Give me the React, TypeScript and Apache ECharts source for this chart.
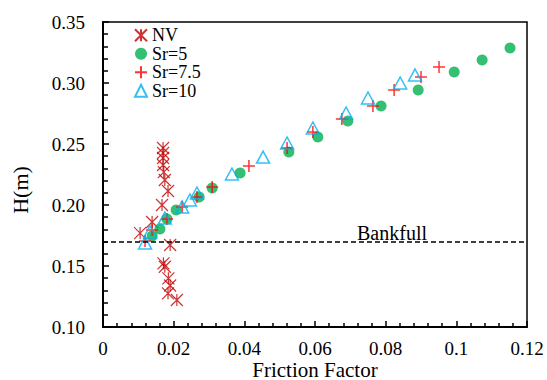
import React, { useEffect, useRef } from "react";
import * as echarts from "echarts";

const nvX = [0.0170, 0.0170, 0.0170, 0.0170, 0.0172, 0.0175, 0.0184, 0.0167, 0.0139, 0.0105, 0.0190, 0.0171, 0.0175, 0.0185, 0.0190, 0.0184, 0.0209];
const nvY = [0.2467, 0.2426, 0.2385, 0.2328, 0.2270, 0.2205, 0.2115, 0.2000, 0.1861, 0.1770, 0.1672, 0.1522, 0.1494, 0.1399, 0.1340, 0.1276, 0.1221];

const sr5X = [0.0139, 0.0161, 0.0181, 0.0207, 0.0272, 0.0309, 0.0388, 0.0526, 0.0608, 0.0693, 0.0787, 0.0892, 0.0994, 0.1073, 0.1152];
const sr5Y = [0.1746, 0.1803, 0.1885, 0.1959, 0.2066, 0.2139, 0.2262, 0.2434, 0.2557, 0.2689, 0.2811, 0.2943, 0.3090, 0.3189, 0.3287];

const sr75X = [0.0119, 0.0139, 0.0181, 0.0224, 0.0266, 0.0309, 0.0413, 0.0521, 0.0594, 0.0676, 0.0764, 0.0824, 0.0900, 0.0951];
const sr75Y = [0.1705, 0.1795, 0.1885, 0.1984, 0.2066, 0.2148, 0.2320, 0.2467, 0.2598, 0.2705, 0.2811, 0.2943, 0.3049, 0.3131];

const sr10X = [0.0119, 0.0133, 0.0175, 0.0224, 0.0246, 0.0266, 0.0365, 0.0453, 0.0521, 0.0594, 0.0688, 0.0750, 0.0841, 0.0883];
const sr10Y = [0.1689, 0.1779, 0.1893, 0.1984, 0.2041, 0.2098, 0.2254, 0.2393, 0.2508, 0.2631, 0.2754, 0.2877, 0.3000, 0.3066];

const bankfull = 0.167;
const seriesNames = ["NV", "Sr=5", "Sr=7.5", "Sr=10"];

const zip = (xs: number[], ys: number[]) => xs.map((x, i) => [x, ys[i]]);

const FONT = "'Liberation Serif', serif";

export default function App() {
  const ref = useRef<HTMLDivElement>(null);
  useEffect(() => {
    if (!ref.current) return;
    const chart = echarts.init(ref.current, undefined, { renderer: "svg" });
    const option: any = {
      animation: false,
      backgroundColor: "#fff",
      textStyle: { fontFamily: FONT, color: "#000" },
      grid: {
        left: 103,
        right: 20,
        top: 22,
        bottom: 53,
        show: true,
        borderColor: "#000",
        borderWidth: 1.5,
        containLabel: false,
        outerBoundsMode: "none",
      },
      legend: {
        show: true,
        orient: "vertical",
        left: 129,
        top: 21,
        itemWidth: 12,
        itemHeight: 12,
        itemGap: 0,
        data: seriesNames,
        textStyle: { fontFamily: FONT, fontSize: 18, color: "#000", lineHeight: 18.5 },
      },
      xAxis: {
        type: "value",
        min: 0,
        max: 0.12,
        interval: 0.02,
        name: "Friction Factor",
        nameLocation: "middle",
        nameGap: 32,
        nameMoveOverlap: false,
        nameTextStyle: { fontFamily: FONT, fontSize: 21, color: "#000" },
        axisLine: { show: true, onZero: false, lineStyle: { color: "#000", width: 2 } },
        axisTick: { show: true, inside: true, length: 6, lineStyle: { color: "#000", width: 1.5 } },
        minorTick: { show: true, splitNumber: 5, length: 4, lineStyle: { color: "#000", width: 1.5 } },
        splitLine: { show: false },
        axisLabel: { fontFamily: FONT, fontSize: 19, color: "#000", margin: 12 },
      },
      yAxis: {
        type: "value",
        min: 0.1,
        max: 0.35,
        interval: 0.05,
        axisLine: { show: true, onZero: false, lineStyle: { color: "#000", width: 2 } },
        axisTick: { show: true, inside: true, length: 6, lineStyle: { color: "#000", width: 1.5 } },
        minorTick: { show: true, splitNumber: 5, length: 5, lineStyle: { color: "#000", width: 1.5 } },
        splitLine: { show: false },
        axisLabel: {
          fontFamily: FONT,
          fontSize: 19,
          color: "#000",
          margin: 18,
          formatter: (v: number) => v.toFixed(2),
        },
      },
      graphic: [
        {
          type: "text",
          x: 20,
          y: 190,
          rotation: Math.PI / 2,
          style: {
            text: "H(m)",
            fontFamily: FONT,
            fontSize: 22,
            fill: "#000",
            align: "center",
            verticalAlign: "middle",
          },
        },
        {
          type: "text",
          x: 392,
          y: 243,
          style: {
            text: "Bankfull",
            fontFamily: FONT,
            fontSize: 20,
            fill: "#000",
            align: "center",
            verticalAlign: "bottom",
          },
        },
      ],
      series: [
        {
          name: seriesNames[0],
          type: "scatter",
          data: zip(nvX, nvY),
          symbol: "path://M0,0L10,10M10,0L0,10M5,0L5,10",
          symbolSize: 12,
          itemStyle: { color: "transparent", borderColor: "#C00000", borderWidth: 1.2 },
          markLine: {
            silent: true,
            symbol: "none",
            label: { show: false },
            lineStyle: { color: "#000", width: 1.5, type: [5, 3] },
            data: [{ yAxis: bankfull }],
          },
        },
        {
          name: seriesNames[1],
          type: "scatter",
          data: zip(sr5X, sr5Y),
          symbol: "circle",
          symbolSize: 11,
          itemStyle: { color: "#00B050" },
        },
        {
          name: seriesNames[2],
          type: "scatter",
          data: zip(sr75X, sr75Y),
          symbol: "path://M5,0L5,10M0,5L10,5",
          symbolSize: 12,
          itemStyle: { color: "transparent", borderColor: "#FF0000", borderWidth: 1.5 },
        },
        {
          name: seriesNames[3],
          type: "scatter",
          data: zip(sr10X, sr10Y),
          symbol: "triangle",
          symbolSize: [13, 12],
          itemStyle: { color: "transparent", borderColor: "#00B0F0", borderWidth: 1.5 },
        },
      ],
    };
    chart.setOption(option);
    return () => chart.dispose();
  }, []);
  return <div ref={ref} style={{ width: 547, height: 380, position: "absolute", left: 0, top: 0 }} />;
}
